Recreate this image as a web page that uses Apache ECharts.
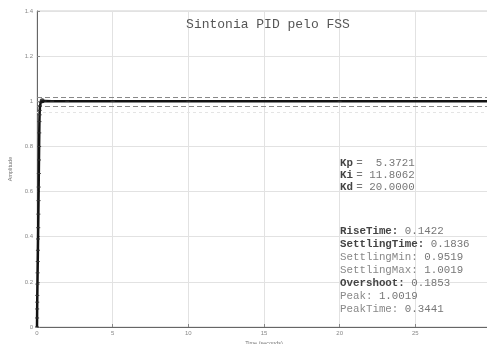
<!DOCTYPE html>
<html>
<head>
<meta charset="utf-8">
<script src="https://cdn.jsdelivr.net/npm/echarts@6/dist/echarts.min.js"></script>
<style>
  html, body { margin: 0; padding: 0; background: #fff; }
  #chart { width: 487px; height: 344px; }
</style>
</head>
<body>
<div id="chart"></div>
<script>
// Closed-loop step response of the PID-tuned plant
const timeSec = [0, 0.005, 0.01, 0.015, 0.02, 0.03, 0.04, 0.05, 0.06, 0.07, 0.08, 0.09, 0.10, 0.11, 0.12, 0.13, 0.14, 0.15, 0.16, 0.17, 0.18, 0.20, 0.25, 0.3441, 0.5, 1, 2, 5, 10, 20, 30];
const amplitude = [0, 0.04, 0.08, 0.11, 0.14, 0.19, 0.24, 0.29, 0.34, 0.39, 0.44, 0.50, 0.56, 0.62, 0.68, 0.74, 0.80, 0.86, 0.91, 0.94, 0.96, 0.98, 0.995, 1.0019, 1.001, 1.0005, 1.0, 1.0, 1.0, 1.0, 1.0];

// Settling band around the final value
const bandLevels = [1.02, 0.98];
const settlingMinLevel = 0.9519;

// Peak point
const peakPoint = [0.3441, 1.0019];

const xTicks = [0, 5, 10, 15, 20, 25, 30];
const yTicks = [0, 0.2, 0.4, 0.6, 0.8, 1, 1.2, 1.4];

// Tuning gains and step-response metrics
const gainNames = ['Kp', 'Ki', 'Kd'];
const gainValues = ['=  5.3721', '= 11.8062', '= 20.0000'];
const metricNames = ['RiseTime', 'SettlingTime', 'SettlingMin', 'SettlingMax', 'Overshoot', 'Peak', 'PeakTime'];
const metricValues = ['0.1422', '0.1836', '0.9519', '1.0019', '0.1853', '1.0019', '0.3441'];
const metricBold = [true, true, false, false, true, false, false];

const mono = '"Liberation Mono", "DejaVu Sans Mono", monospace';

const chart = echarts.init(document.getElementById('chart'));

const textGraphics = [];
gainNames.forEach((n, i) => {
  textGraphics.push({
    type: 'text', left: 340, top: 157 + i * 12, z: 100,
    style: {
      text: '{b|' + n + '} {v|' + gainValues[i] + '}',
      rich: {
        b: { fontFamily: mono, fontSize: 10.8, fontWeight: 'bold', fill: '#444' },
        v: { fontFamily: mono, fontSize: 10.8, fill: '#777' }
      }
    }
  });
});
metricNames.forEach((n, i) => {
  textGraphics.push({
    type: 'text', left: 340, top: 226 + i * 13, z: 100,
    style: {
      text: (metricBold[i] ? '{b|' : '{n|') + n + ':}{v| ' + metricValues[i] + '}',
      rich: {
        b: { fontFamily: mono, fontSize: 10.8, fontWeight: 'bold', fill: '#444' },
        n: { fontFamily: mono, fontSize: 10.8, fill: '#888' },
        v: { fontFamily: mono, fontSize: 10.8, fill: '#777' }
      }
    }
  });
});

chart.setOption({
  animation: false,
  backgroundColor: '#fff',
  title: {
    text: 'Sintonia PID pelo FSS',
    left: 263, top: 13, textAlign: 'center',
    textStyle: { fontFamily: mono, fontSize: 13, fontWeight: 'normal', color: '#555' }
  },
  grid: {
    left: 37, right: -4, top: 11, bottom: 17,
    outerBoundsMode: 'none', containLabel: false,
    show: true, borderColor: '#cfcfcf', borderWidth: 1
  },
  xAxis: {
    type: 'value', min: 0, max: 30, interval: 5,
    name: 'Time (seconds)', nameLocation: 'middle', nameGap: 10,
    nameTextStyle: { fontSize: 5.5, color: '#777' },
    axisLine: { show: true, onZero: false, lineStyle: { color: '#666', width: 1 } },
    axisTick: { show: true, inside: true, length: 3, lineStyle: { color: '#888' } },
    axisLabel: { fontSize: 6, color: '#888', margin: 3, showMaxLabel: false },
    splitLine: { show: true, lineStyle: { color: '#e2e2e2', width: 1 } }
  },
  yAxis: {
    type: 'value', min: 0, max: 1.4, interval: 0.2,
    name: 'Amplitude', nameLocation: 'middle', nameGap: 18,
    nameTextStyle: { fontSize: 5.5, color: '#777' },
    axisLine: { show: true, lineStyle: { color: '#666', width: 1 } },
    axisTick: { show: true, inside: true, length: 3, lineStyle: { color: '#888' } },
    axisLabel: { fontSize: 6, color: '#888', margin: 4, formatter: v => String(+v.toFixed(1)) },
    splitLine: { show: true, lineStyle: { color: '#e2e2e2', width: 1 } }
  },
  series: [
    {
      type: 'line',
      data: timeSec.map((t, i) => [t, amplitude[i]]),
      showSymbol: true,
      symbol: 'rect',
      symbolSize: [4, 1],
      itemStyle: { color: '#333' },
      lineStyle: { color: '#111', width: 2.5 },
      z: 5,
      markLine: {
        silent: true,
        symbol: 'none',
        label: { show: false },
        data: bandLevels.map(v => ({ yAxis: v, lineStyle: { color: '#888', type: [5, 3], width: 1 } }))
          .concat([{ yAxis: settlingMinLevel, lineStyle: { color: '#e4e4e4', type: [3, 3], width: 1 } }])
      }
    },
    {
      type: 'scatter',
      data: [peakPoint],
      symbol: 'circle',
      symbolSize: 5,
      itemStyle: { color: '#111' },
      z: 6
    }
  ],
  graphic: textGraphics
});
</script>
</body>
</html>
